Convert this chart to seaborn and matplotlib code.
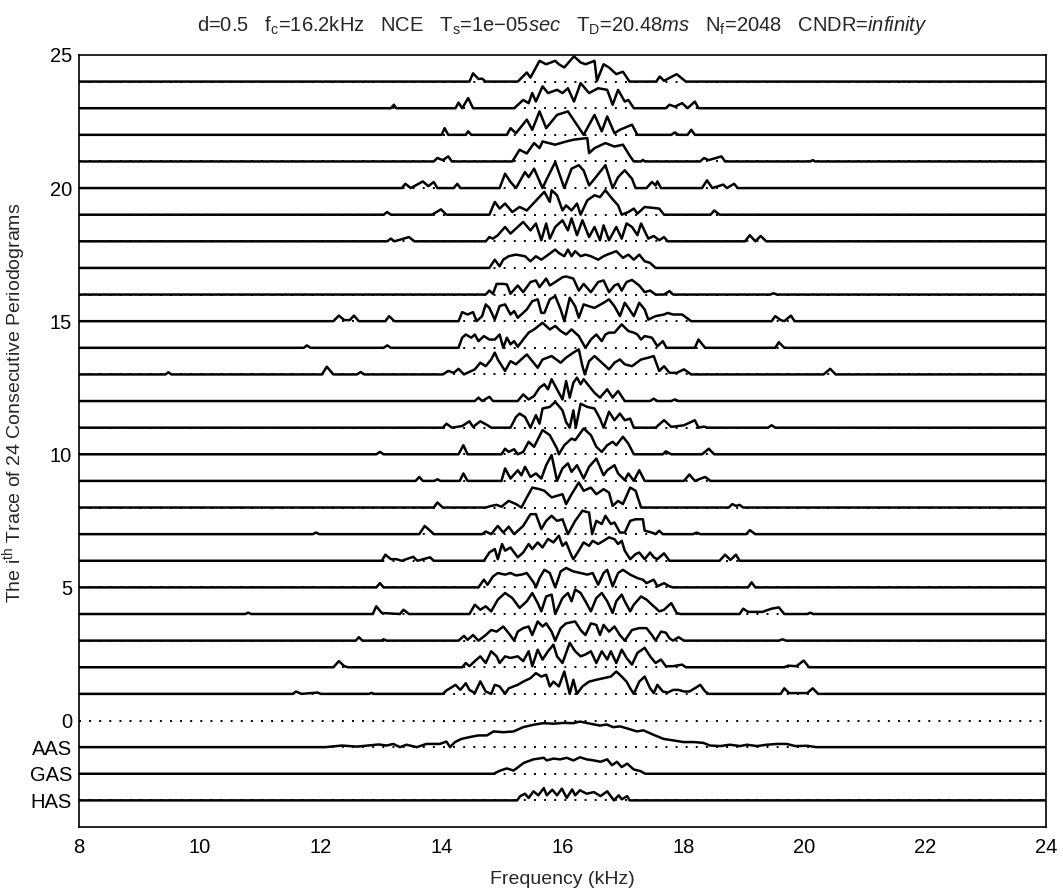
import matplotlib
matplotlib.use("Agg")
import matplotlib.pyplot as plt
import pandas as pd
import seaborn as sns

# ---------------- data: (frequency kHz, relative height) vertices ----------------
T01 = [(11.54, 0), (11.59, .09), (11.68, 0), (11.95, .05), (12.00, 0), (12.80, 0), (12.84, .04), (12.88, 0),
       (14.02, 0), (14.08, .13), (14.14, .21), (14.23, .34), (14.31, .15), (14.40, .40), (14.46, .15), (14.55, .03),
       (14.64, .47), (14.73, .09), (14.82, 0), (14.88, .34), (14.96, .28), (15.05, 0), (15.11, .21), (15.26, .34),
       (15.35, .46), (15.47, .59), (15.56, .78), (15.65, .65), (15.73, .72), (15.79, .28), (15.85, .46), (15.94, .28),
       (16.03, .84), (16.12, 0), (16.18, .53), (16.24, 0), (16.33, .28), (16.44, .46), (16.56, .53), (16.68, .59),
       (16.80, .65), (16.89, .84), (16.98, .65), (17.06, .46), (17.12, .21), (17.18, 0), (17.27, .46), (17.36, .65),
       (17.45, .21), (17.51, .03), (17.57, .34), (17.66, .09), (17.74, .05), (17.83, .15), (17.92, .15), (18.01, .09),
       (18.10, .09), (18.19, .21), (18.28, .34), (18.36, .09), (18.42, 0), (19.61, 0), (19.67, .21), (19.75, .03),
       (20.05, .03), (20.14, .21), (20.23, 0)]
T02 = [(12.21, 0), (12.30, .23), (12.39, .04), (12.45, 0), (14.34, 0), (14.40, .16), (14.46, .04), (14.55, .23),
       (14.64, .41), (14.73, .16), (14.82, .60), (14.91, .41), (14.96, .16), (15.05, .41), (15.14, .35), (15.26, .41),
       (15.35, .23), (15.44, .60), (15.50, .04), (15.59, .66), (15.67, .29), (15.76, .60), (15.85, .85), (15.91, .41),
       (16.00, .16), (16.12, .92), (16.21, .60), (16.30, .41), (16.38, .48), (16.47, .60), (16.56, .16), (16.65, .60),
       (16.74, .29), (16.80, .60), (16.89, .16), (16.98, .66), (17.06, .35), (17.15, .10), (17.24, .54), (17.36, .73),
       (17.45, .41), (17.54, .16), (17.63, .29), (17.71, .04), (17.83, .04), (17.98, .10), (18.04, 0), (19.67, 0),
       (19.73, .06), (19.87, .04), (19.99, .25), (20.08, 0)]
T03 = [(12.58, 0), (12.63, .13), (12.69, 0), (13.00, 0), (13.04, .05), (13.09, 0), (14.28, 0), (14.37, .18),
       (14.43, .03), (14.52, .21), (14.61, 0), (14.73, .21), (14.82, .40), (14.91, .34), (15.02, .53), (15.11, .28),
       (15.20, 0), (15.26, .34), (15.35, .47), (15.44, .53), (15.50, .21), (15.59, .72), (15.67, .53), (15.73, .65),
       (15.82, .34), (15.88, 0), (15.97, .47), (16.06, .65), (16.21, .72), (16.30, .40), (16.38, .21), (16.47, .65),
       (16.56, .59), (16.62, .21), (16.68, .59), (16.77, .34), (16.86, .53), (16.95, .21), (17.03, 0), (17.15, .40),
       (17.27, .47), (17.39, .47), (17.48, .21), (17.54, 0), (17.63, .34), (17.71, .30), (17.77, .09), (17.83, 0),
       (17.92, .13), (18.01, 0), (19.58, 0), (19.64, .05), (19.70, 0)]
T04 = [(10.75, 0), (10.80, .05), (10.85, 0), (12.86, 0), (12.92, .29), (13.01, .04), (13.31, 0), (13.37, .16),
       (13.46, 0), (14.46, 0), (14.55, .35), (14.64, .16), (14.73, .29), (14.82, .10), (14.93, .54), (15.05, .79),
       (15.17, .60), (15.29, .23), (15.41, .48), (15.50, .79), (15.59, .41), (15.65, .10), (15.73, .66), (15.82, .73),
       (15.88, 0), (16.00, .60), (16.09, .79), (16.15, .48), (16.21, .92), (16.30, .79), (16.38, .48), (16.47, .10),
       (16.56, .60), (16.65, .79), (16.74, .48), (16.83, .04), (16.89, .48), (16.98, .73), (17.03, .48), (17.12, .10),
       (17.18, .35), (17.30, .66), (17.39, .54), (17.48, .35), (17.54, .23), (17.60, .10), (17.68, .16), (17.80, .41),
       (17.89, .04), (17.95, 0), (18.93, 0), (18.99, .20), (19.07, .08), (19.31, .08), (19.37, .13), (19.46, .20),
       (19.58, .25), (19.67, 0), (20.05, 0), (20.10, .05), (20.15, 0)]
T05 = [(12.92, 0), (12.98, .16), (13.04, 0), (14.61, 0), (14.70, .29), (14.76, .10), (14.85, .41), (14.93, .54),
       (15.05, .48), (15.14, .54), (15.23, .45), (15.32, .48), (15.41, .54), (15.53, .16), (15.56, 0), (15.62, .35),
       (15.70, .66), (15.79, .54), (15.88, 0), (15.97, .60), (16.06, .73), (16.18, .60), (16.30, .54), (16.41, .48),
       (16.50, .54), (16.59, .10), (16.68, .54), (16.74, .66), (16.83, .04), (16.92, .54), (17.00, .66), (17.12, .48),
       (17.24, .35), (17.33, .29), (17.39, .16), (17.51, .29), (17.57, .04), (17.68, .16), (17.77, .04), (17.83, 0),
       (19.07, 0), (19.13, .19), (19.19, 0)]
T06 = [(13.01, 0), (13.07, .23), (13.16, .06), (13.25, .06), (13.34, 0), (13.53, .15), (13.60, 0), (13.81, .13),
       (13.87, 0), (14.70, 0), (14.79, .31), (14.88, .44), (14.93, .06), (15.00, .63), (15.05, .38), (15.14, .50),
       (15.26, .13), (15.35, .31), (15.44, .63), (15.50, .44), (15.59, .69), (15.67, .50), (15.76, .82), (15.85, .69),
       (15.94, .94), (16.00, .56), (16.06, .69), (16.15, .19), (16.18, .06), (16.27, .38), (16.35, .69), (16.44, .56),
       (16.50, .75), (16.59, .63), (16.68, .75), (16.77, .88), (16.86, .81), (16.92, .63), (16.98, .75), (17.03, .38),
       (17.12, .06), (17.21, .25), (17.27, .31), (17.36, .06), (17.45, .31), (17.51, .13), (17.57, .06), (17.68, .28),
       (17.77, 0), (18.60, 0), (18.69, .23), (18.78, .03), (18.87, .23), (18.93, 0)]
T07 = [(11.87, 0), (11.92, .06), (11.98, 0), (13.63, 0), (13.72, .31), (13.81, .13), (13.87, 0), (14.67, 0),
       (14.73, .10), (14.82, 0), (14.93, .31), (15.02, .06), (15.11, .28), (15.20, 0), (15.35, .31), (15.47, .75),
       (15.56, .75), (15.65, .19), (15.73, .50), (15.82, .69), (15.91, .50), (16.00, .56), (16.09, 0), (16.21, .50),
       (16.33, .88), (16.44, .81), (16.49, 0), (16.56, .50), (16.65, .38), (16.71, .69), (16.80, .38), (16.86, .44),
       (16.95, .06), (17.03, .06), (17.12, .50), (17.21, .56), (17.33, .56), (17.36, .13), (17.48, .06), (17.54, 0),
       (17.60, .13), (17.66, 0), (18.16, 0), (18.22, .06), (18.28, 0), (19.04, 0), (19.10, .15), (19.19, 0)]
T08 = [(13.87, 0), (13.93, .19), (14.02, 0), (14.73, 0), (14.82, .06), (14.91, .10), (14.99, .03), (15.11, .25),
       (15.23, .13), (15.32, 0), (15.41, .38), (15.50, .75), (15.62, .69), (15.70, .63), (15.82, .38), (16.00, .50),
       (16.06, .13), (16.15, .50), (16.27, .94), (16.35, .63), (16.47, .75), (16.56, .50), (16.68, .69), (16.77, .56),
       (16.83, .06), (16.92, .25), (17.00, .13), (17.12, .75), (17.21, .63), (17.30, 0), (18.75, 0), (18.81, .13),
       (18.87, .06), (18.93, .10), (18.99, 0)]
T09 = [(13.57, 0), (13.63, .15), (13.69, 0), (13.88, 0), (13.93, .06), (13.98, 0), (14.30, 0), (14.36, .28),
       (14.43, 0), (14.99, 0), (15.05, .47), (15.14, .09), (15.26, .40), (15.32, .21), (15.38, .53), (15.47, .15),
       (15.56, .28), (15.65, .09), (15.73, .59), (15.82, .97), (15.91, 0), (16.00, .47), (16.09, .66), (16.15, .34),
       (16.24, .59), (16.35, .09), (16.44, .53), (16.56, .84), (16.68, .21), (16.74, .40), (16.86, .59), (16.92, .28),
       (17.03, .03), (17.09, .28), (17.18, 0), (17.27, .40), (17.36, 0), (18.01, 0), (18.10, .24), (18.19, 0),
       (18.36, .15), (18.45, 0)]
T10 = [(12.92, 0), (12.98, .09), (13.04, 0), (14.28, 0), (14.36, .34), (14.43, 0), (14.99, 0), (15.05, .21),
       (15.11, .09), (15.20, .19), (15.26, 0), (15.35, .09), (15.44, .47), (15.53, .28), (15.67, .91), (15.79, .72),
       (15.91, .21), (15.94, 0), (16.03, .34), (16.15, .59), (16.21, .53), (16.35, .97), (16.47, .72), (16.56, .28),
       (16.65, .09), (16.74, .34), (16.83, .47), (16.89, .34), (17.00, .66), (17.09, .40), (17.18, 0), (17.66, 0),
       (17.71, .11), (17.80, 0), (18.31, 0), (18.42, .21), (18.51, 0)]
T11 = [(14.02, 0), (14.08, .15), (14.17, 0), (14.34, .06), (14.46, .24), (14.52, .03), (14.64, .24), (14.76, .09),
       (14.82, 0), (15.14, 0), (15.23, .40), (15.29, .53), (15.38, .40), (15.47, 0), (15.56, .47), (15.62, .15),
       (15.67, .72), (15.79, .78), (15.88, .97), (16.00, .65), (16.06, .21), (16.12, 0), (16.18, .65), (16.22, 0),
       (16.30, .90), (16.41, .78), (16.53, .72), (16.62, .34), (16.68, 0), (16.77, .60), (16.86, .28), (16.95, .53),
       (17.03, .28), (17.12, .34), (17.18, 0), (17.54, 0), (17.68, .28), (17.80, .03), (18.01, .09), (18.19, .28),
       (18.25, 0), (18.34, .04), (18.40, 0), (19.40, 0), (19.46, .09), (19.52, 0)]
T12 = [(14.55, 0), (14.61, .13), (14.67, 0), (14.79, .16), (14.85, 0), (15.26, 0), (15.35, .25), (15.44, .06),
       (15.53, .19), (15.62, .50), (15.70, .63), (15.76, .44), (15.82, .82), (15.91, .44), (16.00, .06), (16.06, .75),
       (16.12, .13), (16.18, .69), (16.24, .88), (16.30, .63), (16.35, .82), (16.44, .56), (16.53, .31), (16.62, .13),
       (16.74, .44), (16.83, .13), (16.92, .38), (17.03, 0), (17.45, 0), (17.51, .09), (17.57, 0), (17.80, 0),
       (17.86, .06), (17.92, 0)]
T13 = [(9.43, 0), (9.48, .08), (9.53, 0), (12.02, 0), (12.10, .29), (12.21, 0), (12.60, 0), (12.66, .09),
       (12.72, 0), (14.02, 0), (14.11, .13), (14.20, .06), (14.28, .21), (14.37, 0), (14.55, .19), (14.64, .44),
       (14.73, .31), (14.82, .56), (14.88, .82), (14.93, .56), (15.05, .13), (15.14, .50), (15.23, .38), (15.35, .63),
       (15.41, .75), (15.50, .50), (15.59, .25), (15.67, .56), (15.82, .69), (15.97, .44), (16.06, .63), (16.18, .82),
       (16.27, .94), (16.33, .31), (16.37, 0), (16.44, .50), (16.53, .69), (16.68, .38), (16.77, .19), (16.86, .44),
       (16.95, .56), (17.03, .38), (17.15, .31), (17.30, .56), (17.42, .63), (17.51, .69), (17.60, .13), (17.68, .31),
       (17.77, .06), (17.89, .06), (18.01, .19), (18.13, 0), (20.32, 0), (20.43, .21), (20.52, 0)]
T14 = [(11.72, 0), (11.77, .09), (11.83, 0), (13.04, 0), (13.10, .09), (13.16, 0), (14.28, 0), (14.34, .38),
       (14.40, .50), (14.49, .38), (14.55, .50), (14.61, .25), (14.70, .44), (14.79, .31), (14.88, .31), (14.96, .50),
       (15.02, 0), (15.08, .38), (15.14, .13), (15.20, .25), (15.26, .04), (15.35, .31), (15.44, .57), (15.53, .69),
       (15.67, .94), (15.79, .69), (15.88, .82), (15.97, .63), (16.06, .50), (16.15, .69), (16.27, .44), (16.38, 0),
       (16.47, .31), (16.56, .50), (16.65, .25), (16.71, .50), (16.77, .57), (16.86, .57), (16.98, .88), (17.09, .63),
       (17.18, .57), (17.24, .50), (17.30, .31), (17.36, .44), (17.48, .38), (17.57, .06), (17.66, .25), (17.72, 0),
       (18.19, 0), (18.25, .31), (18.36, 0), (19.52, 0), (19.58, .21), (19.67, 0)]
T15 = [(12.21, 0), (12.30, .21), (12.39, .04), (12.48, .04), (12.55, .21), (12.63, 0), (13.07, 0), (13.13, .19),
       (13.22, 0), (14.28, 0), (14.34, .34), (14.43, .25), (14.52, .34), (14.58, 0), (14.67, .19), (14.73, .63),
       (14.79, .50), (14.88, .06), (14.96, .57), (15.05, .63), (15.14, .25), (15.20, .38), (15.26, .13), (15.41, .44),
       (15.50, .75), (15.59, .82), (15.65, .31), (15.70, .31), (15.79, .82), (15.88, .94), (15.97, .44), (16.03, 0),
       (16.12, .88), (16.21, .56), (16.27, .13), (16.35, .63), (16.44, .56), (16.53, .50), (16.68, .69), (16.77, .82),
       (16.86, .56), (16.95, .19), (17.03, .69), (17.09, .50), (17.18, .19), (17.27, .69), (17.36, .44), (17.42, .06),
       (17.54, .19), (17.68, .25), (17.74, .31), (17.83, .25), (17.98, .25), (18.13, 0), (19.46, 0), (19.52, .19),
       (19.61, .04), (19.67, 0), (19.78, .21), (19.84, 0)]
T16 = [(14.73, 0), (14.79, .15), (14.85, .03), (14.91, .40), (15.02, .40), (15.08, .38), (15.14, .03), (15.26, .34),
       (15.35, .09), (15.47, .47), (15.56, .53), (15.62, .28), (15.73, .60), (15.79, .34), (15.88, .47), (16.00, .65),
       (16.06, .68), (16.18, .60), (16.27, .15), (16.35, .40), (16.47, .09), (16.59, .47), (16.68, .53), (16.77, .09),
       (16.86, .34), (16.92, .40), (16.98, .15), (17.06, .47), (17.15, .55), (17.27, .34), (17.36, .09), (17.45, .15),
       (17.54, 0), (17.68, 0), (17.77, .13), (17.83, 0), (19.44, 0), (19.49, .05), (19.55, 0)]
T17 = [(14.79, 0), (14.88, .31), (14.96, .06), (15.02, .31), (15.11, .44), (15.23, .50), (15.38, .44), (15.47, .25),
       (15.56, .44), (15.65, .31), (15.73, .44), (15.88, .69), (15.94, .56), (16.03, .44), (16.09, .69), (16.15, .44),
       (16.21, .63), (16.30, .44), (16.38, .50), (16.47, .44), (16.59, .31), (16.68, .44), (16.74, .50), (16.89, .63),
       (17.00, .38), (17.09, .50), (17.18, .31), (17.27, .50), (17.36, .25), (17.45, .19), (17.54, 0)]
T18 = [(13.10, 0), (13.16, .10), (13.22, 0), (13.37, .10), (13.46, .16), (13.55, 0), (14.73, 0), (14.79, .16),
       (14.85, .10), (14.93, .23), (15.05, .54), (15.14, .29), (15.35, .73), (15.47, .41), (15.56, .67), (15.65, .04),
       (15.73, .67), (15.79, .10), (15.88, .54), (16.00, .79), (16.09, .41), (16.15, .86), (16.24, .23), (16.33, .79),
       (16.44, .16), (16.53, .54), (16.62, .04), (16.68, .60), (16.77, .04), (16.89, .54), (16.98, .10), (17.06, .67),
       (17.15, .54), (17.24, .23), (17.30, .67), (17.42, .10), (17.51, .20), (17.60, .04), (17.68, .16), (17.74, 0),
       (19.02, 0), (19.10, .23), (19.19, 0), (19.28, .20), (19.37, 0)]
T19 = [(13.04, 0), (13.10, .10), (13.16, 0), (13.84, 0), (13.99, .20), (14.08, 0), (14.79, 0), (14.88, .48),
       (14.96, .23), (15.05, .42), (15.17, .10), (15.29, .29), (15.41, .16), (15.59, .60), (15.70, .86), (15.79, .48),
       (15.82, .92), (15.91, .73), (16.00, .16), (16.06, .35), (16.15, .16), (16.24, .42), (16.30, 0), (16.41, .54),
       (16.53, .73), (16.62, .66), (16.71, .92), (16.80, .66), (16.92, .35), (16.98, 0), (17.09, .10), (17.18, .23),
       (17.24, .04), (17.36, .29), (17.60, .23), (17.68, 0), (18.45, 0), (18.51, .16), (18.60, 0)]
T20 = [(13.34, 0), (13.40, .16), (13.49, 0), (13.69, .25), (13.78, .07), (13.87, .23), (13.93, 0), (14.20, 0),
       (14.26, .16), (14.31, 0), (14.96, 0), (15.05, .54), (15.14, .23), (15.23, 0), (15.38, .60), (15.44, .41),
       (15.53, .73), (15.67, 0), (15.73, .29), (15.88, .98), (16.03, 0), (16.15, .73), (16.27, .86), (16.35, .66),
       (16.44, .10), (16.53, .35), (16.71, .86), (16.83, 0), (16.92, .41), (17.03, .67), (17.15, .35), (17.21, 0),
       (17.39, 0), (17.48, .23), (17.54, .10), (17.57, .25), (17.63, 0), (18.31, 0), (18.39, .29), (18.48, 0),
       (18.66, .13), (18.72, 0), (18.84, .16), (18.90, 0)]
T21 = [(13.87, 0), (13.93, .13), (14.02, .05), (14.11, .19), (14.17, 0), (15.17, 0), (15.29, .44), (15.41, .30),
       (15.53, .69), (15.62, .50), (15.67, .75), (15.88, .63), (16.06, .75), (16.19, .82), (16.41, .88), (16.44, .31),
       (16.53, .50), (16.71, .69), (16.86, .56), (17.00, .63), (17.12, .19), (17.18, 0), (17.30, 0), (17.33, .06),
       (17.36, 0), (18.28, 0), (18.34, .13), (18.42, .05), (18.63, .19), (18.69, 0), (20.10, 0), (20.14, .05),
       (20.18, 0)]
T22 = [(14.00, 0), (14.05, .25), (14.11, 0), (14.40, 0), (14.44, .13), (14.49, 0), (15.08, 0), (15.14, .25),
       (15.23, .06), (15.41, .57), (15.50, .19), (15.62, .88), (15.73, .25), (15.91, .75), (16.09, .88), (16.35, 0),
       (16.53, .75), (16.65, .13), (16.74, .69), (16.86, .06), (16.95, .19), (17.15, .38), (17.24, 0), (17.80, 0),
       (17.86, .09), (17.92, 0), (18.07, 0), (18.13, .19), (18.19, 0)]
T23 = [(13.16, 0), (13.21, .13), (13.25, 0), (14.23, 0), (14.28, .21), (14.34, 0), (14.44, .38), (14.52, 0),
       (15.20, 0), (15.35, .31), (15.44, .19), (15.50, .57), (15.56, .25), (15.67, .82), (15.76, .57), (15.91, .69),
       (16.00, .57), (16.09, .75), (16.19, .25), (16.30, .94), (16.44, .57), (16.59, .75), (16.74, .69), (16.83, .13),
       (16.92, .69), (17.03, .25), (17.09, .31), (17.18, 0), (17.71, 0), (17.77, .13), (17.86, .06), (17.98, .19),
       (18.07, 0), (18.19, .25), (18.25, 0)]
T24 = [(14.46, 0), (14.52, .31), (14.61, .10), (14.67, .11), (14.73, 0), (15.26, 0), (15.41, .34), (15.47, .15),
       (15.62, .78), (15.73, .65), (15.88, .78), (15.94, .65), (16.03, .53), (16.19, .95), (16.30, .72), (16.38, .65),
       (16.53, .78), (16.57, .03), (16.68, .65), (16.77, .53), (16.89, .28), (17.00, .37), (17.11, 0), (17.55, 0),
       (17.61, .19), (17.68, .03), (17.89, .28), (18.04, 0)]

AAS = [(12.08, 0), (12.35, .06), (12.60, .02), (12.96, .10), (13.09, .06), (13.20, .12), (13.31, 0), (13.42, .09),
       (13.59, 0), (13.75, .12), (13.97, .12), (14.08, .21), (14.14, 0), (14.22, .19), (14.33, .31), (14.47, .38),
       (14.61, .44), (14.75, .44), (14.86, .59), (15.02, .56), (15.19, .59), (15.35, .75), (15.52, .84), (15.68, .90),
       (15.85, .88), (16.02, .91), (16.18, .90), (16.29, .96), (16.46, .88), (16.62, .81), (16.73, .85), (16.84, .75),
       (16.95, .78), (17.06, .71), (17.23, .59), (17.34, .63), (17.51, .46), (17.67, .31), (17.84, .25), (18.00, .19),
       (18.17, .19), (18.33, .16), (18.44, .06), (18.61, .04), (18.77, .09), (18.94, .04), (19.05, .09), (19.22, .04),
       (19.38, .09), (19.55, .12), (19.71, .12), (19.85, .04), (20.05, .05), (20.20, 0)]
GAS = [(14.86, 0), (14.97, .12), (15.08, .20), (15.19, .12), (15.25, .22), (15.36, .41), (15.52, .54), (15.69, .60),
       (15.74, .50), (15.85, .57), (15.96, .54), (16.07, .60), (16.18, .50), (16.29, .62), (16.40, .54), (16.52, .50),
       (16.63, .45), (16.74, .54), (16.82, .32), (16.90, .45), (16.98, .25), (17.07, .38), (17.18, .16), (17.29, .10),
       (17.37, 0)]
HAS = [(15.25, 0), (15.30, .16), (15.38, .25), (15.44, .09), (15.52, .34), (15.60, .19), (15.69, .46), (15.74, .19),
       (15.83, .40), (15.91, .19), (15.99, .44), (16.07, .09), (16.16, .41), (16.21, .19), (16.29, .38), (16.40, .25),
       (16.52, .31), (16.63, .16), (16.74, .34), (16.85, 0), (16.93, .19), (16.98, .04), (17.07, .16), (17.11, 0)]

TRACES = [T01, T02, T03, T04, T05, T06, T07, T08, T09, T10, T11, T12,
          T13, T14, T15, T16, T17, T18, T19, T20, T21, T22, T23, T24]
AVG_NAMES = ["AAS", "GAS", "HAS"]
AVG_TRACES = [AAS, GAS, HAS]
AVG_LEVELS = [-1, -2, -3]
X_TICKS = [8, 10, 12, 14, 16, 18, 20, 22, 24]
Y_TICKS = [-3, -2, -1, 0, 5, 10, 15, 20, 25]
Y_TICKLABELS = ["HAS", "GAS", "AAS", "0", "5", "10", "15", "20", "25"]
TITLE = (r"d=0.5   f$_\mathrm{c}$=16.2kHz   NCE   T$_\mathrm{s}$=1e$-$05$\mathit{sec}$   "
         r"T$_\mathrm{D}$=20.48$\mathit{ms}$   N$_\mathrm{f}$=2048   CNDR=$\mathit{infinity}$")

# ---------------- build long table ----------------
rows = []
def add_trace(name, level, pts):
    fs = [8.0] + [p[0] for p in pts] + [24.0]
    hs = [0.0] + [p[1] for p in pts] + [0.0]
    for f, h in zip(fs, hs):
        rows.append({"trace": name, "freq": f, "y": level + h})

for i, pts in enumerate(TRACES, start=1):
    add_trace(f"T{i:02d}", i, pts)
for name, lvl, pts in zip(AVG_NAMES, AVG_LEVELS, AVG_TRACES):
    add_trace(name, lvl, pts)
df = pd.DataFrame(rows)

# ---------------- plot ----------------
sns.set_style("white")
plt.rcParams["font.family"] = ["Liberation Sans", "DejaVu Sans"]
plt.rcParams["mathtext.fontset"] = "custom"
plt.rcParams["mathtext.rm"] = "Liberation Sans"
plt.rcParams["mathtext.it"] = "Liberation Sans:italic"
plt.rcParams["mathtext.bf"] = "Liberation Sans:bold"

fig = plt.figure(figsize=(10.63, 8.88), dpi=100)
ax = fig.add_axes([0.0743, 0.0687, 0.9097, 0.8694])

# dotted reference baselines (visible only under raised traces)
for lvl in list(range(-3, 25)):
    ax.axhline(lvl, color="black", lw=1.4, ls=(0, (1, 4.2)), zorder=1)

sns.lineplot(data=df, x="freq", y="y", units="trace", estimator=None, sort=False,
             color="black", linewidth=1.8, legend=False, ax=ax, zorder=3,
             solid_joinstyle="round", solid_capstyle="round")

ax.set_xlim(8, 24)
ax.set_ylim(-4, 25)
ax.set_xticks(X_TICKS)
ax.set_xticklabels([str(t) for t in X_TICKS])
ax.set_yticks(Y_TICKS)
ax.set_yticklabels(Y_TICKLABELS)
ax.tick_params(axis="both", direction="in", length=7, width=1.1, labelsize=14.5, colors="black")
ax.tick_params(axis="x", pad=8)
ax.tick_params(axis="y", pad=5)
for sp in ax.spines.values():
    sp.set_visible(True)
    sp.set_color("black")
    sp.set_linewidth(1.2)

ax.set_xlabel("Frequency (kHz)", fontsize=14)
ax.xaxis.set_label_coords(0.5, -0.057)
ax.set_ylabel(r"The i$^{\mathrm{th}}$ Trace of 24 Consecutive Periodograms", fontsize=14)
ax.yaxis.set_label_coords(-0.053, 0.55)
ax.set_title(TITLE, fontsize=14.5, pad=17)

fig.savefig("out.png", dpi=100)
